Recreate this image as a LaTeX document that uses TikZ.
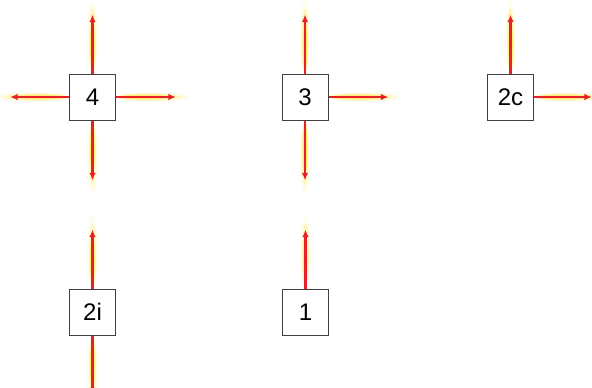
\documentclass[tikz,border=0pt]{standalone}
\usepackage{fontspec}
\setmainfont{Liberation Sans}
\usetikzlibrary{arrows.meta,calc}
\definecolor{arrred}{HTML}{E8202A}
\definecolor{glowa}{HTML}{FFFCEB}
\definecolor{glowb}{HTML}{FFF6B8}
\definecolor{glowc}{HTML}{FFEC70}
\tikzset{
  box/.style={draw=black!75, line width=0.8pt, fill=white, minimum size=46pt, inner sep=0pt, font=\fontsize{24}{24}\selectfont},
  arr/.style={draw=arrred, line width=2.2pt, -{Latex[length=7.5pt,width=6.5pt]}},
}
% #1 start coordinate, #2 direction x, #3 direction y
\newcommand{\glowarrow}[3]{%
  \begin{scope}[shift={(#1)}]
    \ifnum#2=0
      \fill[glowa] (0,36*#3) ellipse [x radius=5, y radius=37];
      \fill[glowb] (0,33*#3) ellipse [x radius=3.5, y radius=32];
      \fill[glowc] (0,29*#3) ellipse [x radius=2.3, y radius=26];
    \else
      \fill[glowa] (36*#2,0) ellipse [x radius=37, y radius=5];
      \fill[glowb] (33*#2,0) ellipse [x radius=32, y radius=3.5];
      \fill[glowc] (29*#2,0) ellipse [x radius=26, y radius=2.3];
    \fi
  \end{scope}%
}
\begin{document}
\begin{tikzpicture}[x=1pt,y=-1pt]
\useasboundingbox (0,0) rectangle (592,388);
\clip (0,0) rectangle (592,388);
\node[box] (n4) at (92.5,97) {4};
\node[box] (n3) at (305,97) {3};
\node[box] (n2c) at (510.5,97) {2c};
\node[box] (n2i) at (92.5,312) {2i};
\node[box] (n1) at (305.5,312) {1};
% tip coordinates
\coordinate (t4n) at ($(n4.north)+(0,-59)$);
\coordinate (t4s) at ($(n4.south)+(0,60)$);
\coordinate (t4w) at ($(n4.west)+(-59,0)$);
\coordinate (t4e) at ($(n4.east)+(60,0)$);
\coordinate (t3n) at ($(n3.north)+(0,-59)$);
\coordinate (t3s) at ($(n3.south)+(0,60)$);
\coordinate (t3e) at ($(n3.east)+(60,0)$);
\coordinate (t2cn) at ($(n2c.north)+(0,-59)$);
\coordinate (t2ce) at ($(n2c.east)+(58,0)$);
\coordinate (t2in) at ($(n2i.north)+(0,-59)$);
\coordinate (t2is) at ($(n2i.south)+(0,60)$);
\coordinate (t1n) at ($(n1.north)+(0,-59)$);
% glows
\glowarrow{n4.north}{0}{-1}
\glowarrow{n4.south}{0}{1}
\glowarrow{n4.west}{-1}{0}
\glowarrow{n4.east}{1}{0}
\glowarrow{n3.north}{0}{-1}
\glowarrow{n3.south}{0}{1}
\glowarrow{n3.east}{1}{0}
\glowarrow{n2c.north}{0}{-1}
\glowarrow{n2c.east}{1}{0}
\glowarrow{n2i.north}{0}{-1}
\glowarrow{n2i.south}{0}{1}
\glowarrow{n1.north}{0}{-1}
% arrows
\draw[arr] (n4.north) -- (t4n);
\draw[arr] (n4.south) -- (t4s);
\draw[arr] (n4.west) -- (t4w);
\draw[arr] (n4.east) -- (t4e);
\draw[arr] (n3.north) -- (t3n);
\draw[arr] (n3.south) -- (t3s);
\draw[arr] (n3.east) -- (t3e);
\draw[arr] (n2c.north) -- (t2cn);
\draw[arr] (n2c.east) -- (t2ce);
\draw[arr] (n2i.north) -- (t2in);
\draw[arr] (n2i.south) -- (t2is);
\draw[arr] (n1.north) -- (t1n);
% redraw boxes on top
\node[box] at (n4) {4};
\node[box] at (n3) {3};
\node[box] at (n2c) {2c};
\node[box] at (n2i) {2i};
\node[box] at (n1) {1};
\end{tikzpicture}
\end{document}
